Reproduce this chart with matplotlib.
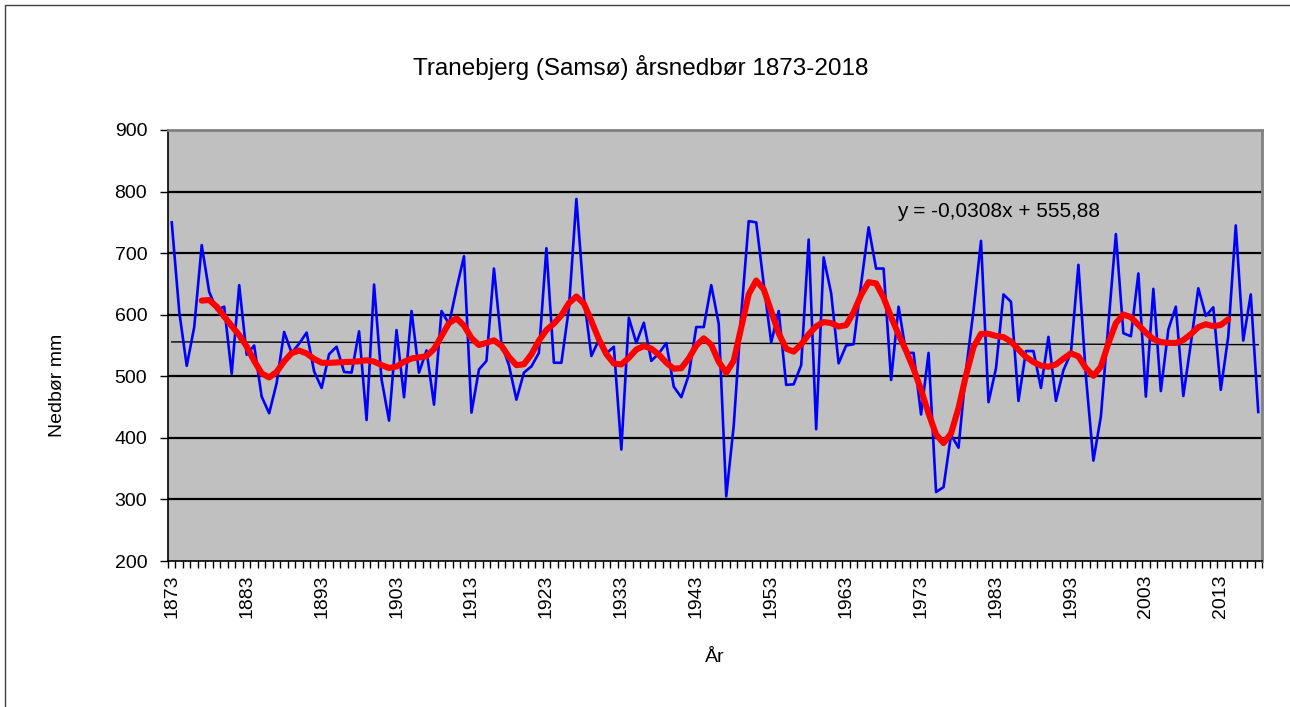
import numpy as np
from matplotlib import pyplot as plt
from matplotlib.patches import Rectangle

plt.rcParams['font.family'] = ['Liberation Sans', 'DejaVu Sans']

years = list(range(1873, 2019))
rain = [750, 605, 517, 580, 713, 637, 608, 613, 504, 648,
        535, 550, 467, 440, 489, 572, 538, 553, 571, 508,
        481, 536, 548, 507, 506, 573, 429, 649, 495, 428,
        575, 466, 606, 506, 542, 454, 606, 585, 642, 695,
        441, 511, 525, 675, 553, 518, 462, 506, 516, 538,
        708, 522, 522, 610, 788, 628, 533, 559, 537, 548,
        381, 595, 554, 587, 525, 537, 554, 483, 466, 502,
        580, 580, 648, 585, 305, 420, 600, 752, 750, 650,
        555, 606, 486, 487, 518, 722, 414, 693, 635, 521,
        550, 552, 650, 742, 675, 675, 494, 613, 538, 538,
        438, 538, 312, 320, 405, 384, 510, 607, 720, 458,
        513, 633, 621, 460, 541, 541, 481, 564, 460, 510,
        538, 681, 500, 363, 435, 585, 731, 570, 565, 667,
        467, 642, 476, 576, 613, 468, 553, 643, 598, 612,
        478, 565, 745, 558, 633, 442]
assert len(rain) == len(years)

# 9-year centred weighted average (red curve)
smooth_weights = [0.063, 0.211, 0.500, 0.841, 1.0, 0.841, 0.500, 0.211, 0.063]
# linear trend as printed on the chart
trend_slope = -0.0308
trend_icept = 555.88

W, H = 1290, 707
fig = plt.figure(figsize=(W / 100, H / 100), dpi=100)
fig.patches.append(Rectangle((5 / W, -0.02), 1.05, 1 - 5 / H + 0.02,
                             transform=fig.transFigure, fill=False,
                             edgecolor='#404040', lw=1))

ax = fig.add_axes([168 / W, 1 - 561 / H, (1262 - 168) / W, (561 - 130) / H])
ax.set_facecolor('#C0C0C0')

pos = np.arange(len(rain))
r = np.array(rain, dtype=float)
w = np.array(smooth_weights)
smooth = np.convolve(r, w / w.sum(), mode='valid')
half = len(w) // 2
trend = trend_slope * (pos + 1) + trend_icept

for v in range(300, 900, 100):
    ax.axhline(v, color='black', lw=1.6, zorder=1)
ax.plot(pos, trend, color='black', lw=1.0, zorder=2)
ax.plot(pos, r, color='#0000FF', lw=1.9, zorder=3)
ax.plot(pos[half:len(r) - half], smooth, color='#FF0000', lw=4.4,
        solid_capstyle='round', zorder=4)

ax.set_xlim(-0.5, len(rain) - 0.5)
ax.set_ylim(200, 900)
ax.set_yticks(range(200, 901, 100))
ax.tick_params(axis='y', direction='out', length=6, width=1, labelsize=14,
               pad=9)
ax.set_xticks(pos[::10])
ax.set_xticklabels([str(y) for y in years[::10]], rotation=90)
ax.set_xticks(np.arange(-0.5, len(rain), 1), minor=True)
ax.tick_params(axis='x', which='major', length=0, labelsize=14, pad=10)
ax.tick_params(axis='x', which='minor', direction='out', length=5, width=1)

for s in ('left', 'bottom'):
    ax.spines[s].set_color('black')
    ax.spines[s].set_linewidth(1.2)
for s in ('top', 'right'):
    ax.spines[s].set_color('#808080')
    ax.spines[s].set_linewidth(2)

fig.text(641 / W, 1 - 67 / H, 'Tranebjerg (Samsø) årsnedbør 1873-2018',
         ha='center', va='center', fontsize=17.5)
fig.text(715 / W, 1 - 657 / H, 'År', ha='center', va='center', fontsize=14)
fig.text(57 / W, 1 - 385 / H, 'Nedbør mm', ha='center', va='center',
         rotation=90, fontsize=14)
fig.text(897 / W, 1 - 212 / H, 'y = -0,0308x + 555,88', ha='left',
         va='center', fontsize=15)

fig.savefig('out.png', dpi=100)
